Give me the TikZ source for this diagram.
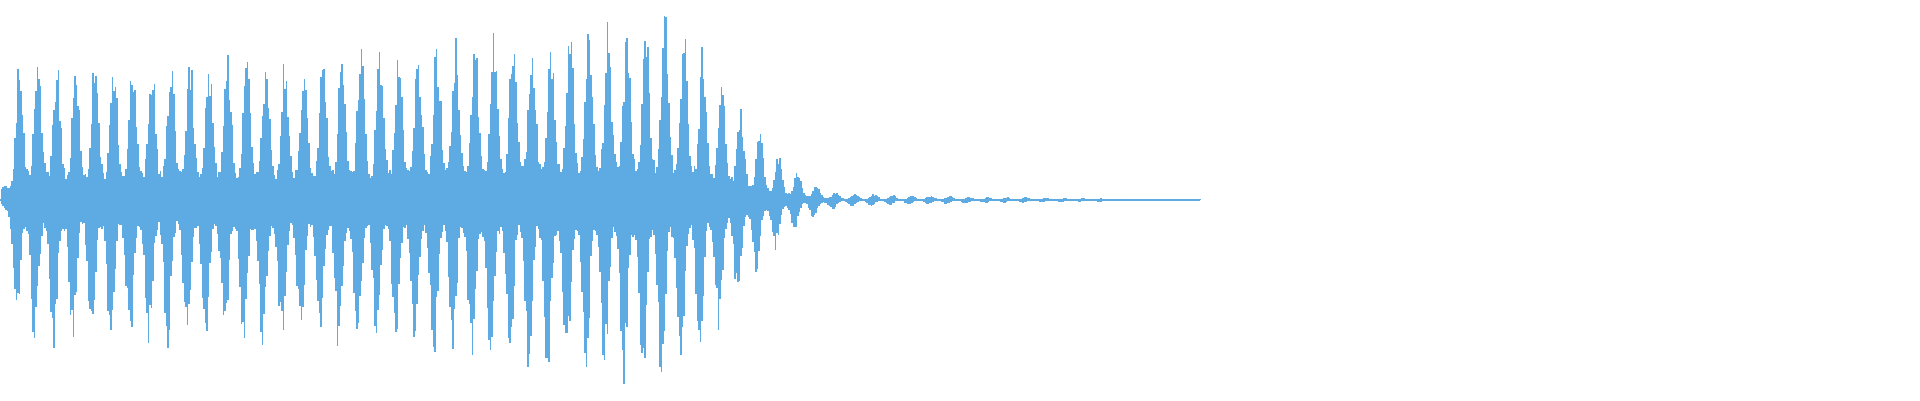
\documentclass[tikz,border=0pt]{standalone}
\definecolor{wave}{RGB}{93,171,226}
\tikzset{waveline/.style={draw=wave,line width=0.45pt}}
\begin{document}
\begin{tikzpicture}
    \useasboundingbox (0,-2) rectangle (19.2,2);
    \pgfmathsetseed{7}
    % envelope of the signal
    \foreach \x in {0.015,0.03,...,12.0} {
        \pgfmathsetmacro{\env}{(\x<0.2)?(1.6*\x/0.2):((\x<2.9)?1.5:((\x<6.6)?(1.5+(\x-2.9)/3.7*0.4):((\x<8.4)?(1.9*exp(-((\x-6.6)/1.0)^2)):(0.07*exp(-max(\x-8.4,0)*0.5)))))}
        \pgfmathsetmacro{\amp}{\env*(0.2+0.8*abs(cos(\x/0.19*180))^3)*(0.7+0.3*rnd)}
        \pgfmathsetmacro{\lo}{\env*(0.2+0.8*abs(cos(\x/0.19*180+30))^3)*(0.7+0.3*rnd)}
        \draw[waveline] (\x,\amp) -- (\x,-\lo);
    }
    \draw[waveline] (0,0) -- (12,0);
\end{tikzpicture}
\end{document}
